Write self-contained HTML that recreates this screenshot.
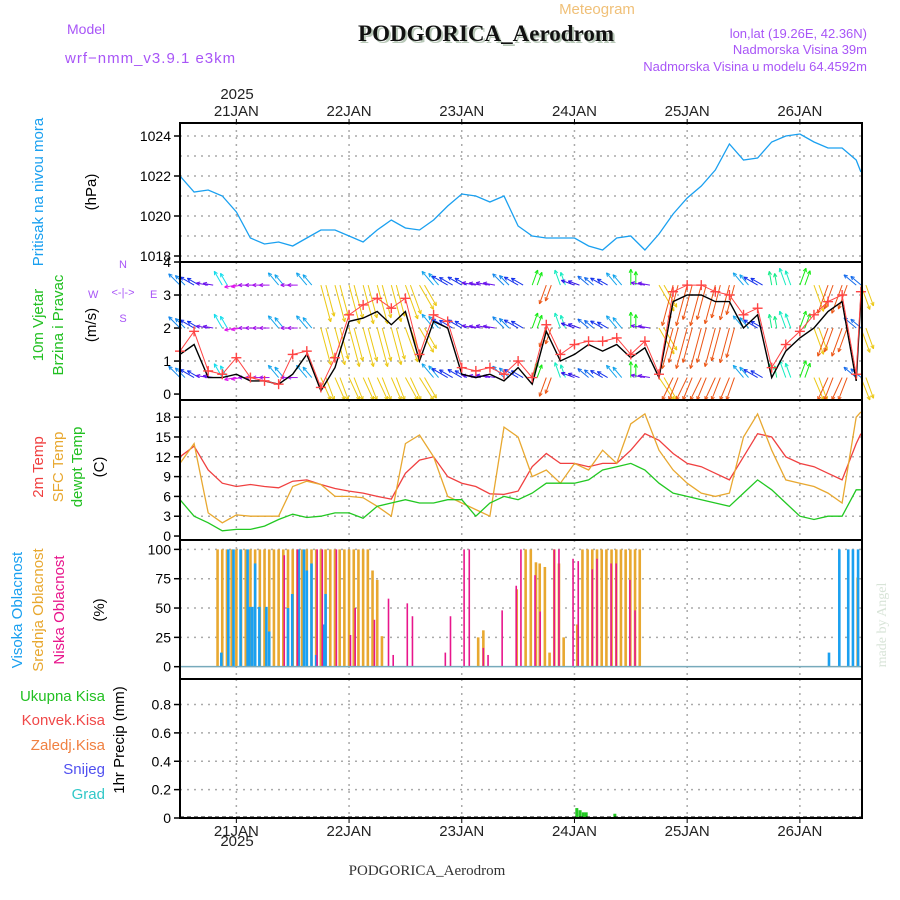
<!DOCTYPE html>
<html><head><meta charset="utf-8"><style>
body{margin:0;background:#fff}
svg{display:block;font-family:"Liberation Sans",sans-serif}
</style></head><body>
<svg id="c" width="900" height="900" xmlns="http://www.w3.org/2000/svg">
<text x="597" y="14" font-size="15" fill="#f0c078" text-anchor="middle">Meteogram</text>
<text x="67" y="34" font-size="14" fill="#a855f7">Model</text>
<text x="65" y="63" font-size="15" fill="#a855f7" letter-spacing="1">wrf−nmm_v3.9.1 e3km</text>
<text x="488" y="43" font-size="23" font-weight="bold" fill="#b8c8b8" text-anchor="middle" font-family="Liberation Serif, serif">PODGORICA_Aerodrom</text>
<text x="486" y="41" font-size="23" font-weight="bold" fill="#111" text-anchor="middle" font-family="Liberation Serif, serif">PODGORICA_Aerodrom</text>
<text x="867" y="38" font-size="13" fill="#a855f7" text-anchor="end">lon,lat (19.26E, 42.36N)</text>
<text x="867" y="54" font-size="13" fill="#a855f7" text-anchor="end">Nadmorska Visina 39m</text>
<text x="867" y="71" font-size="13" fill="#a855f7" text-anchor="end">Nadmorska Visina u modelu 64.4592m</text>
<text x="237" y="99" font-size="15" fill="#222" text-anchor="middle">2025</text>
<text x="237" y="846" font-size="15" fill="#222" text-anchor="middle">2025</text>
<text x="427" y="875" font-size="15" fill="#333" text-anchor="middle" font-family="Liberation Serif, serif">PODGORICA_Aerodrom</text>
<text transform="translate(886,625) rotate(-90)" font-size="14" fill="#d8e4d8" text-anchor="middle" font-family="Liberation Serif, serif">made by Angel</text>
<g font-size="15">
<text transform="translate(43,192) rotate(-90)" fill="#1aa0f0" text-anchor="middle">Pritisak na nivou mora</text>
<text transform="translate(96,192) rotate(-90)" fill="#000" text-anchor="middle">(hPa)</text>
<text transform="translate(43,325) rotate(-90)" fill="#22c022" text-anchor="middle">10m Vjetar</text>
<text transform="translate(63,325) rotate(-90)" fill="#22c022" text-anchor="middle">Brzina i Pravac</text>
<text transform="translate(96,325) rotate(-90)" fill="#000" text-anchor="middle">(m/s)</text>
<text transform="translate(43,467) rotate(-90)" fill="#f04040" text-anchor="middle">2m Temp</text>
<text transform="translate(63,467) rotate(-90)" fill="#e8a830" text-anchor="middle">SFC Temp</text>
<text transform="translate(82,467) rotate(-90)" fill="#22c022" text-anchor="middle">dewpt Temp</text>
<text transform="translate(104,467) rotate(-90)" fill="#000" text-anchor="middle">(C)</text>
<text transform="translate(22,610) rotate(-90)" fill="#1aa0f0" text-anchor="middle">Visoka Oblacnost</text>
<text transform="translate(43,610) rotate(-90)" fill="#e8a830" text-anchor="middle">Srednja Oblacnost</text>
<text transform="translate(64,610) rotate(-90)" fill="#e8168c" text-anchor="middle">Niska Oblacnost</text>
<text transform="translate(104,610) rotate(-90)" fill="#000" text-anchor="middle">(%)</text>
<text transform="translate(124,740) rotate(-90)" fill="#000" text-anchor="middle">1hr Precip (mm)</text>
<text x="105" y="701" fill="#22c022" text-anchor="end">Ukupna  Kisa</text>
<text x="105" y="725" fill="#f04848" text-anchor="end">Konvek.Kisa</text>
<text x="105" y="750" fill="#f08040" text-anchor="end">Zaledj.Kisa</text>
<text x="105" y="774" fill="#5050f0" text-anchor="end">Snijeg</text>
<text x="105" y="799" fill="#30c8c8" text-anchor="end">Grad</text>
</g>
<g font-size="11" fill="#a855f7">
<text x="123" y="268" text-anchor="middle">N</text>
<text x="88" y="298">W</text>
<text x="150" y="298">E</text>
<text x="123" y="322" text-anchor="middle">S</text>
<text x="123" y="296" text-anchor="middle">&lt;-|-&gt;</text>
</g>
</svg>
<script>
const hours=[0,3,6,9,12,15,18,21,24,27,30,33,36,39,42,45,48,51,54,57,60,63,66,69,72,75,78,81,84,87,90,93,96,99,102,105,108,111,114,117,120,123,126,129,132,135,138,141,144,145];
const pressure=[1022,1021.2,1021.3,1021,1020.2,1018.9,1018.6,1018.7,1018.5,1018.9,1019.3,1019.3,1019,1018.7,1019.3,1019.8,1019.4,1019.3,1019.8,1020.5,1021.1,1021,1020.7,1021,1019.5,1019,1018.9,1018.9,1018.9,1018.5,1018.3,1018.9,1019,1018.3,1019.1,1020.1,1020.9,1021.5,1022.3,1023.6,1022.8,1022.9,1023.7,1024,1024.1,1023.7,1023.4,1023.4,1022.8,1022.2];
const windSpeed=[1.2,1.5,0.5,0.5,0.6,0.4,0.4,0.3,0.6,1.2,0.1,0.8,2.2,2.3,2.5,2.1,2.5,1.0,2.2,2.0,0.6,0.5,0.6,0.4,0.8,0.3,1.9,1.0,1.2,1.5,1.3,1.5,1.1,1.4,0.5,2.8,3.0,3.0,2.8,2.8,2.0,2.4,0.5,1.3,1.7,2.0,2.5,2.8,0.4,2.9];
const windGust=[1.3,1.9,0.7,0.6,1.1,0.5,0.4,0.3,1.2,1.3,0.2,1.1,2.4,2.7,2.9,2.6,2.9,1.2,2.4,2.2,0.8,0.7,0.8,0.6,1.0,0.5,2.1,1.2,1.5,1.6,1.6,1.7,1.2,1.6,0.6,3.1,3.3,3.3,3.1,3.0,2.4,2.6,0.8,1.5,1.9,2.4,2.8,3.0,0.6,3.1];
const windDir=[315,300,280,330,260,270,270,320,270,320,165,165,165,165,165,165,160,150,320,300,300,280,280,315,300,20,200,340,290,310,300,320,0,280,150,195,195,195,195,195,320,300,350,340,20,160,200,200,310,160];
const windLen=[16,16,12,16,12,12,12,16,12,16,38,38,40,40,40,38,36,28,18,18,16,14,14,16,16,16,20,16,14,14,14,16,16,14,30,42,42,42,40,36,16,16,14,18,18,28,30,30,16,26];
const temp2m=[12,13.6,10,8,7.5,7.8,7.5,7.3,8.3,8.5,7.8,7.2,6.8,6.5,6,5.6,9.5,11.5,12,9,8,7.5,6.4,6.3,6.8,10.5,12.5,11,11,10.5,11,11,13,15.5,14.5,12.5,11,10.5,9.5,8.5,12,15.5,15,12,11,10.5,9.5,8.5,14,15.5];
const tempSfc=[11,14,3.5,2,3.2,3,3,3,7.5,8.3,7.8,6,6,5.8,4.5,3,14,15.3,12,6,5,4,3,16.5,15,9,10,8,11,10,13,11,17,18.5,13,10,8,6.5,6,6.5,15,18.5,13,8.5,8,7.5,6.5,5,18,18.8];
const tempDew=[5.5,3,2,0.8,1,1,1.5,2.5,3.3,2.8,3,3.5,3.5,2.7,4.5,5,5.5,5,5,5.5,5.5,3,5,6,5.5,6.5,8,8,8,8.5,10,10.5,11,10,8,6.5,6,5.5,5,4.5,6.5,8.5,7,5,3,2.5,3,3,7,7];
const midHours=[8,9,10,11,12,13,14,15,16,17,18,19,20,21,22,23,24,25,26,27,28,29,30,31,32,33,34,35,36,37,38,39,40,41,42,43,63.5,64.6,71.7,73.6,74.7,75.8,76.6,77.7,78.7,79.7,80.7,81.7,84.6,85.7,86.8,87.8,88.8,89.8,90.8,91.9,92.9,93.9,94.9,95.9,96.9,97.9,144.3];
const midVals=[100,100,100,100,100,100,100,100,100,100,100,100,100,100,100,100,100,100,100,100,100,100,100,100,100,100,100,100,100,100,100,100,100,82,74,26,25,31,66,100,100,89,88,85,12,100,88,25,36,100,100,100,100,100,100,100,100,100,100,100,100,100,76];
const highHours=[8.8,10.3,11.4,12.9,14.4,14.8,15.4,16,16.9,18.4,19,23,23.9,25.3,26.4,27,28,29,30.5,31,138.2,140.4,142.3,143.3,144.4];
const highVals=[12,100,100,100,100,51,51,88,51,51,30,50,62,100,100,82,88,10,36,62,12,100,100,100,100];
const lowHours=[22.2,25,29.2,30.3,33.3,36.3,37.3,41.4,44.4,45.4,48.4,49.5,56.5,57.6,60.5,61.6,64.6,65.6,68.6,71.6,72.6,75.6,76.7,79.7,80.7,83.7,84.8,87.8,88.8,91.8,92.9,95.8,96.9];
const lowVals=[95,100,100,100,100,27,50,40,58,10,54,43,12,43,100,100,16,10,48,69,100,78,47,100,100,92,90,83,92,88,88,74,48];
const precipHours=[84.5,85.2,85.9,86.5,92.6];
const precipVals=[0.07,0.055,0.04,0.04,0.03];
const dayLabels=["21JAN","22JAN","23JAN","24JAN","25JAN","26JAN"];
const dayHours=[12,36,60,84,108,132];

const NS="http://www.w3.org/2000/svg",svg=document.getElementById('c');
const L=180,R=862;
const X=h=>L+h*4.696;
function el(t,a,p){const e=document.createElementNS(NS,t);for(const k in a)e.setAttribute(k,a[k]);(p||svg).appendChild(e);return e;}
const panels=[
 {name:'pressure',top:123,bot:262,min:1017.7,max:1024.65,ticks:[1018,1020,1022,1024],grid:[1018,1019,1020,1021,1022,1023,1024]},
 {name:'wind',top:262,bot:400,min:-0.18,max:4,ticks:[0,1,2,3,4],grid:[1,2,3]},
 {name:'temp',top:400,bot:540,min:-0.6,max:20.6,ticks:[0,3,6,9,12,15,18],grid:[3,6,9,12,15,18]},
 {name:'cloud',top:540,bot:679,min:-10.5,max:108,ticks:[0,25,50,75,100],grid:[25,50,75,100]},
 {name:'precip',top:679,bot:818,min:0,max:0.98,ticks:[0,0.2,0.4,0.6,0.8],grid:[0.2,0.4,0.6,0.8]}
];
panels.forEach(p=>{p.Y=v=>p.bot-(v-p.min)/(p.max-p.min)*(p.bot-p.top);});
const [PP,PW,PT,PC,PR]=panels;
panels.forEach(p=>{
 const g=el('g',{});
 
 
 p.grid.forEach(v=>{const y=p.Y(v);el('line',{x1:L,x2:R,y1:y,y2:y,stroke:'#aaa','stroke-dasharray':'2,5','stroke-width':1.5},g);});
 dayHours.forEach(h=>{el('line',{x1:X(h),x2:X(h),y1:p.top,y2:p.bot,stroke:'#aaa','stroke-dasharray':'2,5','stroke-width':1.5},g);});
 const ax=el('g',{});
 
 
 p.ticks.forEach(v=>{const y=p.Y(v);
  el('line',{x1:L-6,x2:L,y1:y,y2:y,stroke:'#000','stroke-width':1.5},ax);
  const t=el('text',{x:L-9,y:y+5,'font-size':14,'text-anchor':'end',fill:'#000'},ax);t.textContent=String(v);});
});
function line(p,ys,color,name,w){const d=hours.map((h,i)=>(i?'L':'M')+X(h).toFixed(1)+','+p.Y(ys[i]).toFixed(1)).join('');
 const e=el('path',{d:d,fill:'none',stroke:color,'stroke-width':w||1.3});
 
 }
line(PP,pressure,'#1aa0f0','pressure-line');
function hue(a){if(a>=250)return Math.max(150,280-(a-270)*1.6);if(a<=60)return 120;if(a<=180)return 50;return 18;}
const wg=el('g',{'stroke-width':1,fill:'none'});


[3.3,2.0,0.5].forEach((lev,r)=>{
 hours.forEach((h,i)=>{for(let k=0;k<2;k++){
  const a=windDir[i]*Math.PI/180,len=windLen[i]*(1-0.15*k);
  const x0=X(h)+k*5,y0=PW.Y(lev);
  let x1=x0+Math.sin(a)*len,y1=y0-Math.cos(a)*len;
  y1=Math.max(PW.top,Math.min(PW.bot,y1));
  const c='hsl('+hue(windDir[i])+',85%,50%)';
  el('line',{x1:x0,y1:y0,x2:x1,y2:y1,stroke:c},wg);
  const b=Math.atan2(y1-y0,x1-x0);
  [2.6,-2.6].forEach(o=>el('line',{x1:x1,y1:y1,x2:x1-4*Math.cos(b+o/6),y2:y1-4*Math.sin(b+o/6),stroke:c},wg));
 }});
});
line(PW,windSpeed,'#000','wind-speed-line',1.4);
line(PW,windGust,'#f44','wind-gust-line',1);
const cg=el('g',{stroke:'#f44','stroke-width':1.4});


hours.forEach((h,i)=>{const x=X(h),y=PW.Y(windGust[i]);el('line',{x1:x-5,x2:x+5,y1:y,y2:y},cg);el('line',{x1:x,x2:x,y1:y-5,y2:y+5},cg);});
line(PT,temp2m,'#f04040','temp-2m-line');
line(PT,tempSfc,'#e8a830','temp-sfc-line');
line(PT,tempDew,'#22c822','temp-dew-line');
function bars(p,hs,vs,color,name,w){const g=el('g',{fill:color});
 
 
 hs.forEach((h,i)=>{const y=p.Y(vs[i]),y0=p.Y(0);el('rect',{x:X(h)-w/2,y:y,width:w,height:y0-y},g);});}
bars(PC,midHours,midVals,'#e8a830','cloud-mid-bars',2.6);
bars(PC,highHours,highVals,'#1aa0f0','cloud-high-bars',2.6);
bars(PC,lowHours,lowVals,'#e8168c','cloud-low-bars',1.6);
el('line',{x1:L,x2:R,y1:PC.Y(0),y2:PC.Y(0),stroke:'#7ab','stroke-width':1.5});
bars(PR,precipHours,precipVals,'#22c822','precip-bars',3);
el('line',{x1:L,x2:R,y1:PR.Y(0)-1,y2:PR.Y(0)-1,stroke:'#000','stroke-dasharray':'4,3','stroke-width':1});
const fr=el('g',{stroke:'#000','stroke-width':2,fill:'none'});


el('rect',{x:L,y:123,width:R-L,height:818-123},fr);
[262,400,540,679].forEach(y=>el('line',{x1:L,x2:R,y1:y,y2:y},fr));
dayHours.forEach((h,i)=>{
 [[116,'top'],[836,'bottom']].forEach(([y,pos])=>{
  const t=el('text',{x:X(h),y:y,'font-size':15,'text-anchor':'middle',fill:'#222'});
  
  
  t.textContent=dayLabels[i];});
 el('line',{x1:X(h),x2:X(h),y1:119,y2:123,stroke:'#000'});
 el('line',{x1:X(h),x2:X(h),y1:818,y2:823,stroke:'#000'});
});
</script>
</body></html>
